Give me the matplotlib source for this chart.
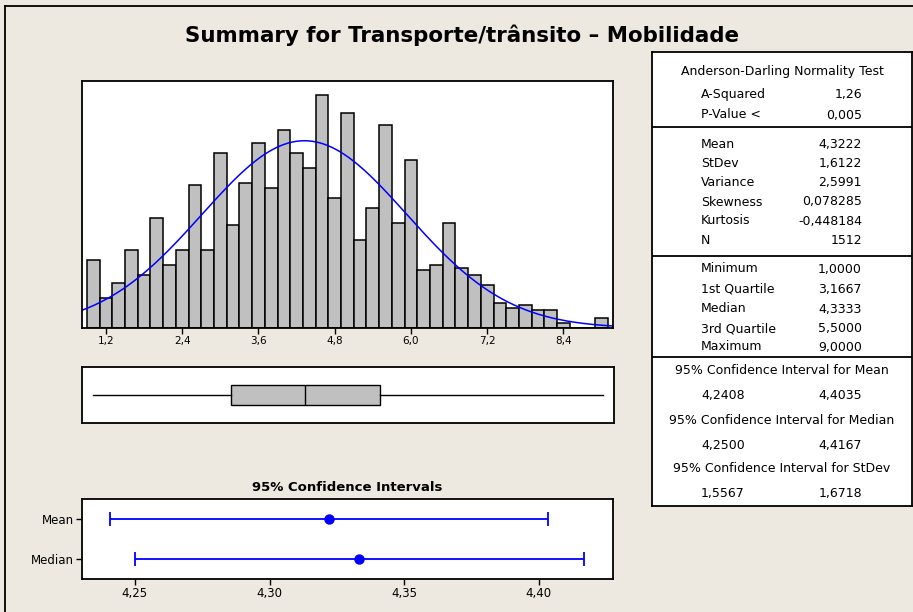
import numpy as np
import matplotlib.pyplot as plt
from matplotlib.lines import Line2D

# histogram: centre of each 0.2 wide bin and its count
bin_centers = [1.0, 1.2, 1.4, 1.6, 1.8, 2.0, 2.2, 2.4, 2.6, 2.8,
               3.0, 3.2, 3.4, 3.6, 3.8, 4.0, 4.2, 4.4, 4.6, 4.8,
               5.0, 5.2, 5.4, 5.6, 5.8, 6.0, 6.2, 6.4, 6.6, 6.8,
               7.0, 7.2, 7.4, 7.6, 7.8, 8.0, 8.2, 8.4, 8.6, 8.8, 9.0]
counts = [27, 12, 18, 31, 21, 44, 25, 31, 57, 31,
          70, 41, 58, 74, 56, 79, 70, 64, 93, 52,
          86, 35, 48, 81, 42, 67, 23, 25, 42, 24,
          21, 17, 10, 8, 9, 7, 7, 2, 0, 0, 4]
bin_width = 0.2
hist_ticks = [1.2, 2.4, 3.6, 4.8, 6.0, 7.2, 8.4]

# summary statistics
n_obs = 1512
mean = 4.3222
stdev = 1.6122
minimum, q1, median, q3, maximum = 1.0, 3.1667, 4.3333, 5.5, 9.0

# 95% confidence intervals
ci_labels = ['Mean', 'Median']
ci_points = [4.3222, 4.3333]
ci_low = [4.2408, 4.2500]
ci_high = [4.4035, 4.4167]
ci_ticks = [4.25, 4.30, 4.35, 4.40]

# right hand table
ad_rows = [('A-Squared', '1,26'), ('P-Value <', '0,005')]
moment_rows = [('Mean', '4,3222'), ('StDev', '1,6122'), ('Variance', '2,5991'),
               ('Skewness', '0,078285'), ('Kurtosis', '-0,448184'), ('N', '1512')]
quant_rows = [('Minimum', '1,0000'), ('1st Quartile', '3,1667'), ('Median', '4,3333'),
              ('3rd Quartile', '5,5000'), ('Maximum', '9,0000')]
ci_rows = [('95% Confidence Interval for Mean', '4,2408', '4,4035'),
           ('95% Confidence Interval for Median', '4,2500', '4,4167'),
           ('95% Confidence Interval for StDev', '1,5567', '1,6718')]


def comma(v, d):
    return f'{v:.{d}f}'.replace('.', ',')


W, H = 913, 612
bg = '#EDE9E0'
narrow = ['Liberation Sans Narrow', 'DejaVu Sans']


def rect(l, t, r, b):
    # pixel box -> figure fraction
    return [l / W, 1 - b / H, (r - l) / W, (b - t) / H]


fig = plt.figure(figsize=(W / 100, H / 100), dpi=100, facecolor=bg)

# outer frame (left and top only, the image is cropped)
fig.add_artist(Line2D([5 / W, 5 / W], [0, 1 - 6 / H], color='black', lw=1.3))
fig.add_artist(Line2D([5 / W, 1], [1 - 6 / H, 1 - 6 / H], color='black', lw=1.3))

fig.text(462 / W, 1 - 35 / H, 'Summary for Transporte/trânsito – Mobilidade',
         ha='center', va='center', fontsize=15.4, fontweight='bold')

xlim = (0.822, 9.18)

# histogram + normal fit
ax = fig.add_axes(rect(82, 81, 613, 328))
ax.bar(bin_centers, counts, width=bin_width, color='#C0C0C0',
       edgecolor='black', linewidth=1.1)
xs = np.linspace(xlim[0], xlim[1], 400)
fit = n_obs * bin_width * np.exp(-0.5 * ((xs - mean) / stdev) ** 2) / (stdev * np.sqrt(2 * np.pi))
ax.plot(xs, fit, color='#0000FF', lw=1.1)
ax.set_xlim(xlim)
ax.set_ylim(0, 98.7)
ax.set_yticks([])
ax.set_xticks(hist_ticks, [comma(t, 1) for t in hist_ticks])
ax.tick_params(axis='x', length=4, width=1, labelsize=7.5, pad=2)
for s in ax.spines.values():
    s.set_linewidth(1.3)

# boxplot
bx = fig.add_axes(rect(82, 367, 614, 423))
stats = [dict(whislo=minimum, q1=q1, med=median, q3=q3, whishi=maximum, fliers=[])]
bx.bxp(stats, positions=[0.5], widths=0.36, orientation='horizontal', showcaps=False,
       patch_artist=True,
       boxprops=dict(facecolor='#C0C0C0', edgecolor='black', linewidth=1.0),
       medianprops=dict(color='black', linewidth=1.0),
       whiskerprops=dict(color='black', linewidth=1.0))
bx.set_xlim(xlim)
bx.set_ylim(0, 1)
bx.set_xticks([])
bx.set_yticks([])
for s in bx.spines.values():
    s.set_linewidth(1.3)

# confidence intervals
cx = fig.add_axes(rect(82, 499, 613, 579))
ypos = [1, 0]
for y, p, lo, hi in zip(ypos, ci_points, ci_low, ci_high):
    cx.errorbar([p], [y], xerr=[[p - lo], [hi - p]], fmt='o', color='#0000FF',
                ms=6.5, capsize=5, elinewidth=1.3, capthick=1.3)
cx.set_xlim(4.2304, 4.4275)
cx.set_ylim(-0.49, 1.49)
cx.set_yticks(ypos, ci_labels, family=narrow)
cx.set_xticks(ci_ticks, [comma(t, 2) for t in ci_ticks], family=narrow)
cx.tick_params(length=4, width=1, labelsize=8.5, pad=2)
cx.set_title('95% Confidence Intervals', fontsize=9.5, fontweight='bold', pad=6)
for s in cx.spines.values():
    s.set_linewidth(1.3)

# statistics table
tx = fig.add_axes(rect(652, 52, 912, 506))
tx.set_xlim(652, 912)
tx.set_ylim(506, 52)
tx.set_xticks([])
tx.set_yticks([])
for s in tx.spines.values():
    s.set_linewidth(1.3)
for y in [127, 256, 357]:
    tx.axhline(y, color='black', lw=1.3)

fs = 9
xl, xr, xc = 701, 862, 782
tx.text(xc, 72, 'Anderson-Darling Normality Test', ha='center', va='center', fontsize=fs)
for (name, val), y in zip(ad_rows, [94.5, 115]):
    tx.text(xl, y, name, ha='left', va='center', fontsize=fs)
    tx.text(xr, y, val, ha='right', va='center', fontsize=fs)
for (name, val), y in zip(moment_rows, [144.5, 163.5, 182.5, 202, 221, 240]):
    tx.text(xl, y, name, ha='left', va='center', fontsize=fs)
    tx.text(xr, y, val, ha='right', va='center', fontsize=fs)
for (name, val), y in zip(quant_rows, [269, 289, 309, 328.5, 347]):
    tx.text(xl, y, name, ha='left', va='center', fontsize=fs)
    tx.text(xr, y, val, ha='right', va='center', fontsize=fs)
for (head, lo, hi), y in zip(ci_rows, [371, 420.5, 469]):
    tx.text(xc, y, head, ha='center', va='center', fontsize=fs)
    tx.text(xl, y + 25, lo, ha='left', va='center', fontsize=fs)
    tx.text(xr, y + 25, hi, ha='right', va='center', fontsize=fs)

fig.savefig('out.png', dpi=100, facecolor=bg)
